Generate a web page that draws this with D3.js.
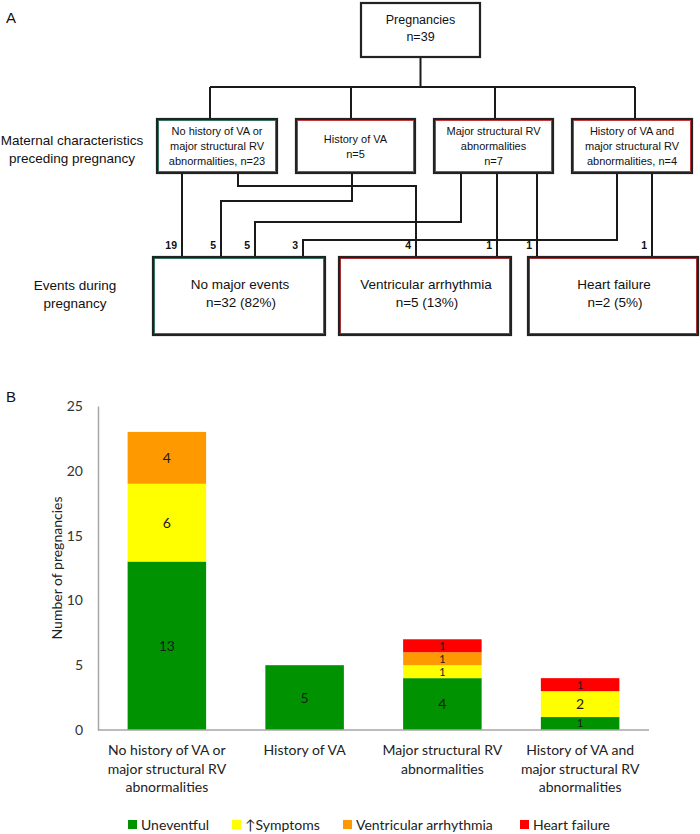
<!DOCTYPE html>
<html>
<head>
<meta charset="utf-8">
<script src="https://cdn.jsdelivr.net/npm/d3@7"></script>
<style>
  body { margin: 0; background: #fff; }
  svg { display: block; }
</style>
</head>
<body>
<div id="graphicContainer"></div>
<script>
// ---- data ----
var groupBoxLines = [
	["No history of VA or", "major structural RV", "abnormalities, n=23"],
	["History of VA", "n=5"],
	["Major structural RV", "abnormalities", "n=7"],
	["History of VA and", "major structural RV", "abnormalities, n=4"]
]
var groupN = [23, 5, 7, 4]
var totalN = 39
var events = ["No major events", "Ventricular arrhythmia", "Heart failure"]
var eventN = [32, 5, 2]
var eventPct = [82, 13, 5]
// flows from maternal group to event
var flowFrom = [0, 0, 1, 2, 2, 2, 3, 3]
var flowTo   = [0, 1, 0, 0, 1, 2, 0, 2]
var flowN    = [19, 4, 5, 5, 1, 1, 3, 1]

// panel B
var barCategories = [
	["No history of VA or", "major structural RV", "abnormalities"],
	["History of VA"],
	["Major structural RV", "abnormalities"],
	["History of VA and", "major structural RV", "abnormalities"]
]
var seriesNames = ["Uneventful", "\u2191Symptoms", "Ventricular arrhythmia", "Heart failure"]
var uneventful = [13, 5, 4, 1]
var symptoms   = [6, 0, 1, 2]
var arrhythmia = [4, 0, 1, 0]
var heartFailure = [0, 0, 1, 1]
var yTicks = [0, 5, 10, 15, 20, 25]

var width = 700, height = 834
var svg = d3.select("#graphicContainer").append("svg")
	.attr("width", width)
	.attr("height", height)

var arial = "'Liberation Sans', Arial, sans-serif"
var calibri = "Lato, 'Open Sans', sans-serif"

// ================= Panel A =================
var A = svg.append("g").attr("font-family", arial).attr("fill", "#111")

A.append("text").attr("x", 6).attr("y", 23).attr("font-size", 15).text("A")

// layout of flowchart
var topBox = {x: 361, y: 3, w: 119, h: 54}
var busY = 87
var groupBoxes = [
	{x: 157, w: 120, drop: 210, border: "#1f6b4f"},
	{x: 296, w: 119, drop: 351, border: "#c0262b"},
	{x: 434, w: 119, drop: 495, border: "#c0262b"},
	{x: 572, w: 120, drop: 635, border: "#c0262b"}
]
var gTop = 119, gBottom = 173
var eventBoxes = [
	{x: 153, w: 172, border: "#1f6b4f"},
	{x: 339, w: 172, border: "#a01d22"},
	{x: 528, w: 170, border: "#a01d22"}
]
var eTop = 257, eBottom = 335
// exit x, elbow y (null = straight), entry x for each flow
var flowRoutes = [
	[182, null, 182], [238, 186, 416], [352, 201, 221], [461, 222, 255],
	[497, null, 497], [537, null, 537], [617, 240, 303], [652, null, 652]
]

function drawBox(g, x, y, w, h, inner) {
	g.append("rect").attr("x", x).attr("y", y).attr("width", w).attr("height", h)
		.attr("fill", "#fff").attr("stroke", "#222").attr("stroke-width", 2.2)
	if (inner) {
		g.append("rect").attr("x", x + 1.5).attr("y", y + 1.5).attr("width", w - 3).attr("height", h - 3)
			.attr("fill", "none").attr("stroke", inner).attr("stroke-width", 0.9)
	}
}

var lines = A.append("g").attr("fill", "none").attr("stroke", "#1a1a1a").attr("stroke-width", 2)

// top connector
lines.append("path").attr("d", `M${topBox.x + topBox.w / 2},${topBox.y + topBox.h}V${busY}`)
lines.append("path").attr("d", `M${groupBoxes[0].drop},${busY}H${groupBoxes[3].drop}`)
groupBoxes.forEach(b => {
	lines.append("path").attr("d", `M${b.drop},${busY}V${gTop}`)
})

// flows
var flowG = A.append("g")
flowN.forEach((n, i) => {
	var r = flowRoutes[i]
	var d = r[1] === null
		? `M${r[0]},${gBottom}V${eTop}`
		: `M${r[0]},${gBottom}V${r[1]}H${r[2]}V${eTop}`
	lines.append("path").attr("d", d)
	flowG.append("text")
		.attr("x", r[2] - 5)
		.attr("y", eTop - 8)
		.attr("text-anchor", "end")
		.attr("font-size", 10.5)
		.attr("font-weight", "bold")
		.text(n)
})

// top box
drawBox(A, topBox.x, topBox.y, topBox.w, topBox.h, null)
A.append("text").attr("x", topBox.x + topBox.w / 2).attr("y", 24)
	.attr("text-anchor", "middle").attr("font-size", 12.5).text("Pregnancies")
A.append("text").attr("x", topBox.x + topBox.w / 2).attr("y", 41)
	.attr("text-anchor", "middle").attr("font-size", 12.5).text("n=" + totalN)

// group boxes
groupBoxes.forEach((b, i) => {
	drawBox(A, b.x, gTop, b.w, gBottom - gTop, b.border)
	var ls = groupBoxLines[i]
	var cy = (gTop + gBottom) / 2
	ls.forEach((t, j) => {
		A.append("text")
			.attr("x", b.x + b.w / 2)
			.attr("y", cy + (j - (ls.length - 1) / 2) * 15 + 4)
			.attr("text-anchor", "middle")
			.attr("font-size", 11)
			.text(t)
	})
})

// event boxes
eventBoxes.forEach((b, i) => {
	drawBox(A, b.x, eTop, b.w, eBottom - eTop, b.border)
	A.append("text").attr("x", b.x + b.w / 2 + 1).attr("y", 289)
		.attr("text-anchor", "middle").attr("font-size", 13.5).text(events[i])
	A.append("text").attr("x", b.x + b.w / 2 + 2).attr("y", 307)
		.attr("text-anchor", "middle").attr("font-size", 13.5)
		.text(`n=${eventN[i]} (${eventPct[i]}%)`)
})

// row labels
A.append("text").attr("x", 72).attr("y", 145).attr("text-anchor", "middle")
	.attr("font-size", 13.5).text("Maternal characteristics")
A.append("text").attr("x", 72).attr("y", 163).attr("text-anchor", "middle")
	.attr("font-size", 13.5).text("preceding pregnancy")
A.append("text").attr("x", 75).attr("y", 290).attr("text-anchor", "middle")
	.attr("font-size", 13.5).text("Events during")
A.append("text").attr("x", 75).attr("y", 308).attr("text-anchor", "middle")
	.attr("font-size", 13.5).text("pregnancy")

// ================= Panel B =================
svg.append("text").attr("x", 6).attr("y", 402).attr("font-family", arial)
	.attr("font-size", 15).attr("fill", "#111").text("B")

var margin = {left: 98, right: 51, top: 406, bottom: 104}
var x = d3.scaleBand()
	.domain(d3.range(barCategories.length))
	.range([margin.left, width - margin.right])
	.paddingInner(0.43)
	.paddingOuter(0.215)

var y = d3.scaleLinear()
	.domain([0, 25])
	.range([height - margin.bottom, margin.top])

var colors = ["#009200", "#ffff00", "#ff9900", "#ff0000"]
var seriesValues = [uneventful, symptoms, arrhythmia, heartFailure]

var table = barCategories.map((c, i) => {
	var row = {idx: i}
	seriesNames.forEach((s, k) => row[s] = seriesValues[k][i])
	return row
})
var stacked = d3.stack().keys(seriesNames)(table)

var B = svg.append("g").attr("font-family", calibri)

var layers = B.selectAll("g.layer")
	.data(stacked)
	.join("g")
	.attr("class", "layer")
	.attr("fill", (d, k) => colors[k])

layers.selectAll("rect")
	.data(d => d.filter(s => s[1] > s[0]))
	.join("rect")
	.attr("x", d => x(d.data.idx))
	.attr("width", x.bandwidth())
	.attr("y", d => y(d[1]))
	.attr("height", d => y(d[0]) - y(d[1]))

layers.selectAll("text")
	.data(d => d.filter(s => s[1] > s[0]))
	.join("text")
	.attr("x", d => x(d.data.idx) + x.bandwidth() / 2)
	.attr("y", d => (y(d[0]) + y(d[1])) / 2)
	.attr("dy", "0.36em")
	.attr("text-anchor", "middle")
	.attr("font-size", d => (y(d[0]) - y(d[1]) < 16 ? 10.8 : 14))
	.attr("fill", "#1a1a1a")
	.text(d => d[1] - d[0])

// axes
var yAxis = B.append("g")
	.attr("transform", `translate(${margin.left},0)`)
	.call(d3.axisLeft(y).tickValues(yTicks).tickSize(0).tickPadding(15))
yAxis.select(".domain").attr("stroke", "#a6a6a6").attr("stroke-width", 1.5)
yAxis.selectAll("text").attr("font-family", calibri).attr("font-size", 14).attr("fill", "#333")

B.append("line")
	.attr("x1", margin.left).attr("x2", width - margin.right)
	.attr("y1", y(0)).attr("y2", y(0))
	.attr("stroke", "#a6a6a6").attr("stroke-width", 1.5)

B.append("text")
	.attr("transform", `translate(62,${(y(0) + y(25)) / 2}) rotate(-90)`)
	.attr("text-anchor", "middle")
	.attr("font-size", 14)
	.attr("fill", "#222")
	.text("Number of pregnancies")

// category labels
barCategories.forEach((ls, i) => {
	ls.forEach((t, j) => {
		B.append("text")
			.attr("x", x(i) + x.bandwidth() / 2)
			.attr("y", 755 + j * 18.5)
			.attr("text-anchor", "middle")
			.attr("font-size", 14)
			.attr("fill", "#222")
			.text(t)
	})
})

// legend
var legendX = [128, 232, 343, 520]
var legend = B.selectAll("g.legend")
	.data(seriesNames)
	.join("g")
	.attr("class", "legend")
	.attr("transform", (d, i) => `translate(${legendX[i]},820)`)
legend.append("rect").attr("width", 9).attr("height", 9).attr("fill", (d, i) => colors[i])
legend.append("text").attr("x", 13).attr("y", 9.5)
	.attr("font-size", 14).attr("fill", "#222").text(d => d)
</script>
</body>
</html>
